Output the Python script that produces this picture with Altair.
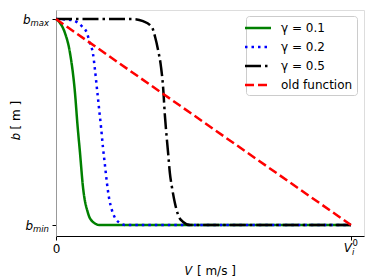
import altair as alt
import pandas as pd

series_names = ["γ = 0.1", "γ = 0.2", "γ = 0.5", "old function"]
series_colors = ["#008000", "#0000ff", "#000000", "#ff0000"]
series_dashes = [[1, 0], [2.5, 4], [16, 4, 2.5, 4], [9, 4]]

green_x = [0, 0.0136, 0.0305, 0.0475, 0.0644, 0.0729, 0.0814, 0.0915, 0.1085, 0.1254, 0.149, 0.2, 1.0]
green_y = [1.0, 0.981, 0.932, 0.835, 0.641, 0.485, 0.350, 0.184, 0.058, 0.015, 0.0, 0.0, 0.0]

blue_x = [0, 0.054, 0.071, 0.088, 0.105, 0.115, 0.125, 0.132, 0.139, 0.146, 0.153, 0.159,
          0.166, 0.173, 0.180, 0.190, 0.200, 0.217, 0.234, 1.0]
blue_y = [1.0, 0.995, 0.985, 0.965, 0.932, 0.883, 0.835, 0.755, 0.660, 0.565, 0.470, 0.380,
          0.290, 0.200, 0.130, 0.070, 0.035, 0.010, 0.0, 0.0]

black_x = [0, 0.261, 0.295, 0.325, 0.336, 0.346, 0.356, 0.363, 0.369, 0.376, 0.380, 0.386,
           0.393, 0.403, 0.414, 0.431, 0.454, 1.0]
black_y = [1.0, 1.0, 0.990, 0.961, 0.913, 0.850, 0.767, 0.670, 0.534, 0.413, 0.350, 0.252,
           0.184, 0.107, 0.049, 0.015, 0.0, 0.0]

red_x = [0, 1.0]
red_y = [1.0, 0.0]

# tick labels
ytick_values = [1, 0]
ytick_main = ["b", "b"]
ytick_sub = ["max", "min"]
xtick_values = [0, 1]
xtick_last_main = "V"
xtick_last_sub = "i"
xtick_last_sup = "0"

xs = [green_x, blue_x, black_x, red_x]
ys = [green_y, blue_y, black_y, red_y]

rows = []
for name, sx, sy in zip(series_names, xs, ys):
    for i, (a, b) in enumerate(zip(sx, sy)):
        rows.append({"s": name, "v": a, "b": b, "i": i})
df = pd.DataFrame(rows)

FONT = "DejaVu Sans"

x_enc = alt.X("v:Q", scale=alt.Scale(domain=[0, 1.044], nice=False, zero=False),
              axis=alt.Axis(values=xtick_values, labelExpr="datum.value == 0 ? '0' : ''",
                            labelFlush=False, grid=False, tickSize=4, tickColor="#000",
                            domainColor="#000", labelFontSize=12, labelFont=FONT,
                            labelColor="#000", labelPadding=3,
                            title="𝑉 [ m/s ]", titleFont=FONT, titleFontSize=12,
                            titleFontWeight="normal", titleColor="#000", titleY=34,
                            titleBaseline="middle"))
y_enc = alt.Y("b:Q", scale=alt.Scale(domain=[-0.053, 1.044], nice=False, zero=False),
              axis=alt.Axis(values=ytick_values, labels=False,
                            grid=False, tickSize=4, tickColor="#000", domainColor="#999",
                            title="𝑏 [ m ]", titleFont=FONT, titleFontSize=12,
                            titleFontWeight="normal", titleColor="#000", titleX=-41,
                            titleY=110, titleBaseline="middle", titleAngle=270))

leg = dict(title=None, orient="none", legendX=190, legendY=6,
           symbolType="M-2,0H2", symbolSize=169, symbolStrokeWidth=2.5,
           labelFont=FONT, labelFontSize=12, labelColor="#000",
           labelOffset=15, fillColor="white", strokeColor="#ccc",
           cornerRadius=3, padding=4, rowPadding=5)

base = alt.Chart(df).mark_line(strokeWidth=2.5, strokeCap="butt", interpolate="monotone").encode(
    x=x_enc,
    y=y_enc,
    color=alt.Color("s:N", scale=alt.Scale(domain=series_names, range=series_colors),
                    legend=alt.Legend(**leg)),
    strokeDash=alt.StrokeDash("s:N", scale=alt.Scale(domain=series_names, range=series_dashes),
                              legend=alt.Legend(**leg)),
    order="i:Q",
)

layers = [base.transform_filter(alt.datum.s == n) for n in series_names]

# y tick labels as text (main letter + subscript)
sub_w = {"max": 18.5, "min": 16.0}
for val, main, sub in zip(ytick_values, ytick_main, ytick_sub):
    d = pd.DataFrame({"v": [0], "b": [val], "t": [main], "u": [sub]})
    layers.append(alt.Chart(d).mark_text(align="right", baseline="alphabetic", dx=-7 - sub_w[sub],
                                         dy=5, fontStyle="italic", fontSize=12, font=FONT,
                                         color="#000").encode(x=x_enc, y=y_enc, text="t:N"))
    layers.append(alt.Chart(d).mark_text(align="right", baseline="alphabetic", dx=-7,
                                         dy=7, fontStyle="italic", fontSize=8.5, font=FONT,
                                         color="#000").encode(x=x_enc, y=y_enc, text="u:N"))

# last x tick label: V with subscript i and superscript 0
dx_ = pd.DataFrame({"v": [xtick_values[1]], "t": [xtick_last_main], "u": [xtick_last_sub],
                    "w": [xtick_last_sup]})
layers.append(alt.Chart(dx_).mark_text(align="right", baseline="alphabetic", dx=1, dy=16,
                                       fontStyle="italic", fontSize=12, font=FONT, color="#000")
              .encode(x=x_enc, y=alt.value(226), text="t:N"))
layers.append(alt.Chart(dx_).mark_text(align="left", baseline="alphabetic", dx=1, dy=19,
                                       fontStyle="italic", fontSize=8.5, font=FONT, color="#000")
              .encode(x=x_enc, y=alt.value(226), text="u:N"))
layers.append(alt.Chart(dx_).mark_text(align="left", baseline="alphabetic", dx=1.5, dy=10,
                                       fontSize=8.5, font=FONT, color="#000")
              .encode(x=x_enc, y=alt.value(226), text="w:N"))

chart = alt.layer(*layers).properties(
    width=308, height=226,
    autosize=alt.AutoSizeParams(type="none"),
    padding={"left": 48, "top": 2, "right": 2, "bottom": 44},
).configure_view(stroke="#222", strokeWidth=1).configure(background="white")

chart.save("out.html", embed_options={"renderer": "svg", "actions": False})
